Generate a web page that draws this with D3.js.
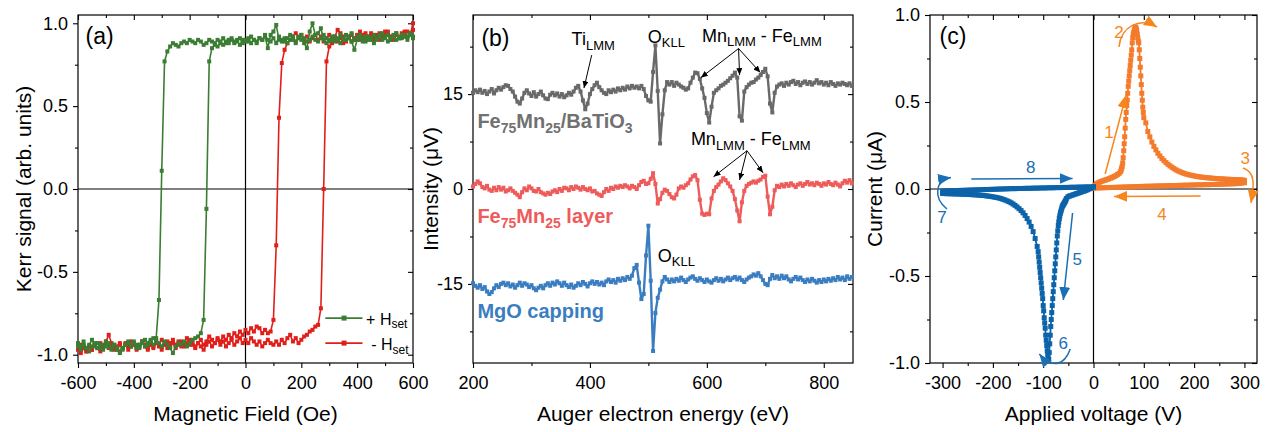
<!DOCTYPE html>
<html>
<head>
<meta charset="utf-8">
<script src="https://cdn.jsdelivr.net/npm/d3@7"></script>
<style>
  body { margin: 0; background: #fff; }
  svg { display: block; }
</style>
</head>
<body>
<svg id="fig" width="1273" height="432"></svg>
<script>
// ---------- (a) MOKE hysteresis loops ----------
const fieldOe = [
  -600,-590,-580,-570,-560,-550,-540,-530,-520,-510,
  -500,-490,-480,-470,-460,-450,-440,-430,-420,-410,
  -400,-390,-380,-370,-360,-350,-340,-330,-320,-310,
  -300,-290,-280,-270,-260,-250,-240,-230,-220,-210,
  -200,-190,-180,-170,-160,-150,-140,-130,-120,-110,
  -100,-90,-80,-70,-60,-50,-40,-30,-20,-10,
  0,10,20,30,40,50,60,70,80,90,
  100,110,120,130,140,150,160,170,180,190,
  200,210,220,230,240,250,260,270,280,290,
  300,310,320,330,340,350,360,370,380,390,
  400,410,420,430,440,450,460,470,480,490,
  500,510,520,530,540,550,560,570,580,590,
  600
];
// +Hset, increasing-field sweep
const kerrPlusUp = [
  -0.93,-0.95,-0.92,-0.96,-0.94,-0.91,-0.95,-0.93,-0.96,-0.94,
  -0.92,-0.95,-0.97,-0.94,-0.96,-0.98,-0.97,-0.94,-0.92,-0.95,
  -0.93,-0.96,-0.94,-0.92,-0.95,-0.93,-0.91,-0.94,-0.92,-0.93,
  -0.95,-0.92,-0.94,-0.96,-0.99,-0.95,-0.93,-0.94,-0.92,-0.95,
  -0.93,-0.91,-0.90,-0.89,-0.87,-0.79,-0.12,0.77,0.85,0.87,
  0.86,0.88,0.87,0.89,0.88,0.90,0.88,0.89,0.87,0.90,
  0.89,0.91,0.88,0.90,0.89,0.91,0.90,0.92,0.85,0.93,
  0.95,0.99,0.90,0.89,0.91,0.88,0.90,0.92,0.89,0.91,
  0.93,0.88,0.85,0.95,1.00,0.93,0.94,0.97,0.90,0.88,
  0.90,0.92,0.89,0.91,0.88,0.90,0.93,0.91,0.89,0.84,
  0.90,0.93,0.91,0.89,0.92,0.90,0.88,0.91,0.93,0.90,
  0.92,0.89,0.91,0.93,0.90,0.92,0.91,0.93,0.92,0.94,
  0.92
];
// +Hset, decreasing-field sweep (listed in field order)
const kerrPlusDown = [
  -0.95,-0.97,-0.94,-0.96,-0.98,-0.95,-0.93,-0.96,-0.94,-0.97,
  -0.95,-0.93,-0.96,-0.94,-0.97,-0.99,-0.96,-0.94,-0.93,-0.95,
  -0.92,-0.94,-0.96,-0.93,-0.91,-0.94,-0.92,-0.90,-0.90,-0.67,
  0.11,0.77,0.83,0.86,0.88,0.87,0.86,0.88,0.89,0.88,
  0.90,0.89,0.88,0.90,0.89,0.87,0.88,0.90,0.89,0.88,
  0.90,0.89,0.91,0.88,0.90,0.91,0.89,0.90,0.91,0.88,
  0.90,0.89,0.92,0.90,0.88,0.91,0.90,0.93,0.90,0.89,
  0.91,0.88,0.92,0.90,0.89,0.91,0.93,0.90,0.88,0.92,
  0.90,0.91,0.89,0.90,0.92,0.90,0.89,0.91,0.93,0.91,
  0.89,0.90,0.92,0.90,0.93,0.91,0.90,0.92,0.94,0.90,
  0.92,0.91,0.89,0.92,0.90,0.91,0.93,0.90,0.92,0.94,
  0.91,0.93,0.90,0.92,0.94,0.91,0.93,0.92,0.90,0.93,
  0.91
];
// -Hset, increasing-field sweep
const kerrMinusUp = [
  -0.97,-0.99,-0.96,-0.98,-0.95,-0.97,-0.94,-0.96,-0.98,-0.95,
  -0.93,-0.96,-0.94,-0.97,-0.95,-0.93,-0.96,-0.94,-0.97,-0.95,
  -0.93,-0.96,-0.94,-0.92,-0.95,-0.97,-0.94,-0.96,-0.93,-0.95,
  -0.97,-0.94,-0.92,-0.95,-0.93,-0.96,-0.94,-0.92,-0.95,-0.93,
  -0.91,-0.94,-0.96,-0.93,-0.95,-0.97,-0.94,-0.92,-0.95,-0.93,
  -0.91,-0.94,-0.92,-0.95,-0.93,-0.91,-0.94,-0.92,-0.90,-0.93,
  -0.91,-0.93,-0.90,-0.92,-0.94,-0.92,-0.95,-0.93,-0.91,-0.93,
  -0.94,-0.92,-0.94,-0.91,-0.93,-0.90,-0.88,-0.92,-0.90,-0.93,
  -0.91,-0.89,-0.88,-0.86,-0.85,-0.83,-0.82,-0.72,0.00,0.77,
  0.86,0.88,0.90,0.89,0.91,0.88,0.90,0.92,0.89,0.91,
  0.93,0.90,0.92,0.94,0.91,0.93,0.90,0.92,0.94,0.91,
  0.93,0.95,0.92,0.90,0.93,0.91,0.94,0.92,0.95,0.93,
  1.00
];
// -Hset, decreasing-field sweep (listed in field order)
const kerrMinusDown = [
  -0.96,-0.94,-0.96,-0.98,-0.95,-0.97,-0.94,-0.96,-0.93,-0.95,
  -0.92,-0.88,-0.93,-0.95,-0.97,-0.94,-0.96,-0.93,-0.95,-0.92,
  -0.94,-0.97,-0.95,-0.92,-0.94,-0.96,-0.93,-0.95,-0.92,-0.94,
  -0.91,-0.93,-0.96,-0.93,-0.91,-0.94,-0.92,-0.95,-0.93,-0.90,
  -0.94,-0.92,-0.95,-0.93,-0.91,-0.94,-0.92,-0.89,-0.91,-0.93,
  -0.90,-0.92,-0.89,-0.91,-0.88,-0.90,-0.87,-0.89,-0.86,-0.88,
  -0.85,-0.87,-0.84,-0.86,-0.83,-0.84,-0.87,-0.85,-0.87,-0.86,
  -0.79,-0.34,0.43,0.76,0.84,0.88,0.90,0.92,0.94,0.91,
  0.93,0.90,0.92,0.89,0.91,0.93,0.90,0.92,0.89,0.91,
  0.93,0.90,0.92,0.96,0.94,0.92,0.89,0.91,0.93,0.90,
  0.92,0.95,0.93,0.90,0.92,0.94,0.91,0.93,0.90,0.92,
  0.95,0.93,0.90,0.92,0.94,0.91,0.93,0.95,0.92,0.94,
  0.96
];
const kerrFieldTicks = [-600,-400,-200,0,200,400,600];
const kerrFieldMinor = [-500,-300,-100,100,300,500];
const kerrSignalTicks = [-1,-0.5,0,0.5,1];
const kerrSignalMinor = [-0.75,-0.25,0.25,0.75];

// ---------- (b) Auger spectra ----------
const energyEv = [
  200,204,208,212,216,220,224,228,232,236,
  240,244,248,252,256,260,264,268,272,276,
  280,284,288,292,296,300,304,308,312,316,
  320,324,328,332,336,340,344,348,352,356,
  360,364,368,372,376,380,384,388,392,396,
  400,404,408,412,416,420,424,428,432,436,
  440,444,448,452,456,460,464,468,472,476,
  480,484,488,492,496,500,504,508,512,516,
  520,524,528,532,536,540,544,548,552,556,
  560,564,568,572,576,580,584,588,592,596,
  600,604,608,612,616,620,624,628,632,636,
  640,644,648,652,656,660,664,668,672,676,
  680,684,688,692,696,700,704,708,712,716,
  720,724,728,732,736,740,744,748,752,756,
  760,764,768,772,776,780,784,788,792,796,
  800,804,808,812,816,820,824,828,832,836,
  840,844,848
];
const augerFeMnBTO = [
  15.2,15.6,15.3,15.7,15.2,15.5,15.0,15.4,15.8,15.1,
  15.6,16.0,15.7,16.1,16.4,16.3,15.8,15.4,14.6,13.8,
  13.5,14.3,15.2,15.6,15.1,14.7,15.3,14.6,15.0,15.4,
  14.8,14.3,14.2,14.9,15.2,14.8,15.1,14.6,15.0,14.5,
  14.8,15.2,14.9,15.4,16.0,16.3,15.4,14.0,12.6,13.5,
  15.0,15.8,16.4,16.8,16.1,15.6,15.2,15.0,15.6,15.3,
  15.7,15.4,15.9,15.6,16.0,15.7,16.2,15.9,16.3,16.0,
  16.2,15.9,16.3,15.8,14.7,14.0,13.8,18.5,22.7,15.5,
  7.2,11.8,15.6,16.9,16.5,16.9,16.3,16.8,16.5,16.2,
  16.0,15.7,15.9,16.8,17.6,18.4,18.3,17.4,15.9,14.4,
  12.0,10.5,13.0,15.2,15.6,15.9,16.3,16.5,16.8,17.1,
  17.5,17.9,18.4,17.6,11.5,10.8,15.4,16.1,16.5,16.8,
  16.9,17.3,17.6,18.0,18.5,19.0,17.8,13.5,12.1,15.2,
  16.2,16.5,16.7,16.3,16.8,16.5,16.9,17.1,16.6,16.9,
  16.4,16.8,17.0,16.6,16.9,16.5,16.8,17.2,16.7,16.9,
  16.5,16.8,16.4,16.9,16.6,16.3,16.7,16.5,16.8,16.6,
  16.4,16.7,16.3
];
const augerFeMn = [
  0.4,0.8,1.2,0.9,0.3,0.1,0.5,-0.1,-0.3,0.2,
  -0.2,0.3,-0.1,0.2,-0.4,-0.2,0.1,-0.3,-0.6,-0.9,
  -1.3,-0.5,0.1,-0.2,0.4,0.1,-0.3,-0.4,0.0,-0.5,
  -0.7,-0.9,-0.6,-0.8,-0.4,-0.2,-0.5,0.0,-0.3,0.2,
  0.1,-0.2,0.3,0.0,0.4,0.2,-0.1,0.3,0.0,-0.2,
  0.1,-0.4,-0.3,-0.7,-0.9,-1.1,-0.5,0.0,-0.3,0.2,
  0.0,0.4,0.2,0.5,0.3,0.6,0.4,0.1,0.5,0.3,
  0.0,0.6,1.1,1.3,0.8,0.9,1.6,2.5,0.8,-2.3,
  -1.6,-0.6,-0.1,-0.3,-0.8,-1.3,-1.5,-0.9,0.1,0.4,
  0.2,0.6,0.9,1.5,2.0,2.2,1.4,-1.7,-3.9,-4.1,
  -3.9,-4.0,-1.5,-0.3,0.3,0.7,1.2,1.7,1.4,0.9,
  0.4,-0.3,-1.6,-3.4,-5.1,-2.1,-0.3,0.5,0.8,1.0,
  1.2,1.0,1.3,1.5,1.9,2.1,-1.2,-4.0,-2.8,-0.2,
  0.5,0.3,0.7,0.4,0.8,0.5,0.9,0.6,0.3,0.7,
  0.9,0.5,0.8,1.1,0.7,0.9,0.6,1.0,0.8,0.5,
  0.9,0.7,1.1,0.8,0.6,1.0,0.7,0.4,0.9,1.3,
  1.0,1.4,0.9
];
const augerMgO = [
  -14.9,-15.3,-15.6,-15.2,-15.8,-15.5,-16.2,-16.6,-16.3,-15.7,
  -15.2,-15.5,-15.0,-14.8,-15.2,-14.9,-15.4,-15.1,-15.6,-15.2,
  -14.8,-15.3,-14.9,-15.1,-15.5,-15.2,-15.7,-16.0,-15.6,-15.3,
  -15.7,-15.2,-14.9,-15.3,-14.8,-15.1,-14.6,-14.9,-15.3,-14.8,
  -15.2,-15.5,-15.1,-15.6,-15.3,-14.9,-15.2,-14.7,-15.0,-15.4,
  -14.9,-14.6,-15.0,-14.7,-15.1,-14.8,-15.2,-14.6,-14.3,-14.7,
  -14.4,-14.8,-14.2,-14.5,-14.1,-14.4,-13.9,-14.2,-13.7,-12.5,
  -12.0,-14.8,-17.4,-16.6,-10.5,-5.8,-14.5,-25.6,-19.6,-17.2,
  -15.9,-14.6,-13.9,-14.3,-14.7,-14.3,-14.6,-14.2,-14.5,-14.0,
  -14.4,-14.7,-14.3,-14.0,-13.8,-14.2,-14.5,-14.1,-14.4,-14.7,
  -14.3,-14.6,-14.8,-14.4,-14.1,-14.5,-14.2,-14.6,-14.3,-14.0,
  -14.4,-14.1,-13.9,-14.3,-14.0,-14.4,-14.7,-14.3,-14.0,-13.8,
  -13.5,-13.7,-13.3,-13.8,-14.4,-15.0,-15.2,-14.2,-13.6,-14.1,
  -13.8,-14.2,-13.7,-14.1,-13.8,-14.3,-14.6,-14.2,-13.9,-14.3,
  -14.0,-14.4,-14.7,-14.3,-14.6,-14.2,-14.5,-14.8,-14.4,-14.7,
  -14.3,-14.6,-14.2,-14.5,-14.1,-14.4,-13.9,-14.3,-14.0,-14.4,
  -13.8,-14.2,-13.9
];
const energyTicks = [200,400,600,800];
const energyMinor = [300,500,700];
const intensityTicks = [-15,0,15];
const intensityMinor = [-22.5,-7.5,7.5,22.5];

// ---------- (c) current-voltage sweeps ----------
const posUpV = [
  0,3,6,9,12,15,18,21,24,27,30,33,36,39,42,45,48,51,54,
  55,56,57,58,59,60,61,62,63,64,65,66,67,68,69,70,71,72,73,74,
  75,76,77,78,79,80,81,82,83,84,85,86,87,88,89,90,91,92,93,94,
  95,96,97,98,99,100,
  104,108,112,116,120,124,128,132,136,140,144,148,152,156,160,164,168,172,176,180,
  184,188,192,196,200,204,208,212,216,220,224,228,232,236,240,244,248,252,256,260,
  264,268,272,276,280,284,288,292,296,300
];
const posUpI = [
  0.012,0.022,0.030,0.035,0.039,0.043,0.046,0.049,0.052,0.055,0.058,0.062,0.065,0.069,0.073,0.078,0.084,0.090,0.100,
  0.11,0.12,0.13,0.15,0.18,0.22,0.26,0.30,0.35,0.40,0.44,0.48,0.51,0.55,0.59,0.62,0.65,0.68,0.71,0.74,
  0.77,0.80,0.84,0.87,0.89,0.90,0.91,0.92,0.93,0.93,0.92,0.91,0.89,0.87,0.85,0.84,0.80,0.75,0.70,0.65,
  0.60,0.55,0.51,0.47,0.44,0.41,
  0.38,0.33,0.30,0.27,0.245,0.225,0.205,0.19,0.175,0.163,0.152,0.142,0.133,0.125,0.117,0.110,0.104,0.099,0.094,0.090,
  0.086,0.083,0.080,0.078,0.075,0.073,0.071,0.069,0.068,0.066,0.065,0.064,0.063,0.062,0.061,0.060,0.059,0.058,0.058,0.057,
  0.056,0.056,0.055,0.055,0.054,0.054,0.053,0.053,0.052,0.050
];
const posDownV = [
  300,295,290,285,280,275,270,265,260,255,250,245,240,235,230,225,220,215,210,205,
  200,195,190,185,180,175,170,165,160,155,150,145,140,135,130,125,120,115,110,105,
  100,95,90,85,80,75,70,65,60,55,50,45,40,35,30,25,20,15,10,5,0
];
const posDownI = [
  0.036,0.034,0.032,0.031,0.030,0.030,0.029,0.029,0.028,0.028,
  0.027,0.027,0.026,0.026,0.025,0.025,0.025,0.024,0.024,0.024,
  0.023,0.023,0.022,0.022,0.022,0.021,0.021,0.020,0.020,0.020,
  0.019,0.019,0.018,0.018,0.018,0.017,0.017,0.016,0.016,0.016,
  0.015,0.015,0.014,0.014,0.013,0.013,0.012,0.012,0.011,0.011,
  0.010,0.010,0.009,0.009,0.008,0.008,0.007,0.007,0.006,0.006,
  0.005
];
const negDownV = [
  0,-3,-6,-9,-12,-15,-18,-21,-24,-27,-30,-33,-36,-39,-42,-45,-48,-51,-54,
  -55,-56,-57,-58,-59,-60,-61,-62,-63,-64,-65,-66,-67,-68,-69,-70,-71,-72,-73,-74,
  -75,-76,-77,-78,-79,-80,-81,-82,-83,-84,-85,-86,-87,-88,-89,-90,-91,-92,-93,-94,
  -95,-96,-97,-98,-99,-100,-101,-102,-103,-104,-105,-106,-107,-108,-109,-110,
  -112,-116,-120,-124,-128,-132,-136,-140,-144,-148,-152,-156,-160,-164,-168,-172,-176,-180,-184,-188,
  -192,-196,-200,-204,-208,-212,-216,-220,-224,-228,-232,-236,-240,-244,-248,-252,-256,-260,-264,-268,
  -272,-276,-280,-284,-288,-292,-296,-300
];
const negDownI = [
  0.012,0.008,0.004,0.0,-0.004,-0.008,-0.011,-0.014,-0.017,-0.020,-0.023,-0.026,-0.029,-0.032,-0.035,-0.038,-0.041,-0.045,-0.055,
  -0.065,-0.07,-0.075,-0.08,-0.085,-0.09,-0.095,-0.10,-0.11,-0.12,-0.13,-0.14,-0.155,-0.17,-0.19,-0.21,-0.24,-0.27,-0.31,-0.35,
  -0.39,-0.43,-0.47,-0.51,-0.55,-0.59,-0.63,-0.67,-0.71,-0.75,-0.79,-0.84,-0.89,-0.94,-0.98,-0.97,-0.95,-0.93,-0.90,-0.87,
  -0.84,-0.80,-0.77,-0.74,-0.70,-0.67,-0.63,-0.60,-0.57,-0.54,-0.51,-0.48,-0.45,-0.42,-0.39,-0.36,
  -0.33,-0.285,-0.245,-0.215,-0.19,-0.17,-0.152,-0.137,-0.124,-0.113,-0.103,-0.094,-0.086,-0.079,-0.073,-0.068,-0.063,-0.059,-0.055,-0.052,
  -0.049,-0.047,-0.045,-0.043,-0.041,-0.040,-0.038,-0.037,-0.036,-0.035,-0.034,-0.033,-0.033,-0.032,-0.031,-0.031,-0.030,-0.030,-0.029,-0.029,
  -0.028,-0.028,-0.028,-0.027,-0.027,-0.027,-0.026,-0.026
];
const negUpV = [
  -300,-295,-290,-285,-280,-275,-270,-265,-260,-255,-250,-245,-240,-235,-230,-225,-220,-215,-210,-205,
  -200,-195,-190,-185,-180,-175,-170,-165,-160,-155,-150,-145,-140,-135,-130,-125,-120,-115,-110,-105,
  -100,-95,-90,-85,-80,-75,-70,-65,-60,-55,-50,-45,-40,-35,-30,-25,-20,-15,-10,-5,0
];
const negUpI = [
  -0.012,-0.011,-0.011,-0.010,-0.010,-0.009,-0.009,-0.008,-0.008,-0.007,
  -0.007,-0.006,-0.006,-0.005,-0.005,-0.004,-0.004,-0.003,-0.003,-0.002,
  -0.002,-0.001,-0.001,0.000,0.000,0.001,0.001,0.002,0.002,0.002,
  0.003,0.003,0.003,0.004,0.004,0.004,0.005,0.005,0.005,0.006,
  0.006,0.006,0.007,0.007,0.007,0.008,0.008,0.008,0.009,0.009,
  0.009,0.010,0.010,0.010,0.011,0.011,0.011,0.012,0.012,0.012,
  0.013
];
const voltageTicks = [-300,-200,-100,0,100,200,300];
const voltageMinor = [-250,-150,-50,50,150,250];
const currentTicks = [-1,-0.5,0,0.5,1];
const currentMinor = [-0.75,-0.25,0.25,0.75];

// ---------- drawing ----------
const FONT = "'Liberation Sans', Arial, Helvetica, sans-serif";
const svg = d3.select("#fig");
const defs = svg.append("defs");

function arrowMarker(id, color, len, wid) {
  defs.append("marker")
    .attr("id", id)
    .attr("viewBox", `0 0 ${len} ${wid}`)
    .attr("refX", len).attr("refY", wid / 2)
    .attr("markerWidth", len).attr("markerHeight", wid)
    .attr("markerUnits", "userSpaceOnUse")
    .attr("orient", "auto")
    .append("path")
    .attr("d", `M0,0L${len},${wid / 2}L0,${wid}Z`)
    .attr("fill", color);
}
arrowMarker("headBlack", "#000", 7, 6);
arrowMarker("headOrange", "#f7861c", 13, 11);
arrowMarker("headBlue", "#1a6fb5", 13, 11);

function makePanel(o) {
  const g = svg.append("g");
  const x = d3.scaleLinear().domain(o.xDomain).range([o.left, o.right]);
  const y = d3.scaleLinear().domain(o.yDomain).range([o.bottom, o.top]);
  const style = sel => {
    sel.select(".domain").remove();
    sel.selectAll("line").attr("stroke", "#000").attr("stroke-width", 1.1);
    sel.selectAll("text").attr("font-family", FONT).attr("font-size", 18).attr("fill", "#000");
  };
  const none = () => "";
  const axes = g.append("g");
  axes.append("g").attr("transform", `translate(0,${o.bottom})`)
    .call(d3.axisBottom(x).tickValues(o.xTicks).tickSize(5).tickPadding(8.5).tickFormat(o.xFmt)).call(style);
  axes.append("g").attr("transform", `translate(0,${o.bottom})`)
    .call(d3.axisBottom(x).tickValues(o.xMinor).tickSize(3).tickFormat(none)).call(style);
  axes.append("g").attr("transform", `translate(0,${o.top})`)
    .call(d3.axisTop(x).tickValues(o.xTicks).tickSize(-5).tickFormat(none)).call(style);
  axes.append("g").attr("transform", `translate(0,${o.top})`)
    .call(d3.axisTop(x).tickValues(o.xMinor).tickSize(-3).tickFormat(none)).call(style);
  axes.append("g").attr("transform", `translate(${o.left},0)`)
    .call(d3.axisLeft(y).tickValues(o.yTicks).tickSize(5).tickPadding(5).tickFormat(o.yFmt)).call(style);
  axes.append("g").attr("transform", `translate(${o.left},0)`)
    .call(d3.axisLeft(y).tickValues(o.yMinor).tickSize(3).tickFormat(none)).call(style);
  axes.append("g").attr("transform", `translate(${o.right},0)`)
    .call(d3.axisRight(y).tickValues(o.yTicks).tickSize(-5).tickFormat(none)).call(style);
  axes.append("g").attr("transform", `translate(${o.right},0)`)
    .call(d3.axisRight(y).tickValues(o.yMinor).tickSize(-3).tickFormat(none)).call(style);
  g.append("rect")
    .attr("x", o.left).attr("y", o.top)
    .attr("width", o.right - o.left).attr("height", o.bottom - o.top)
    .attr("fill", "none").attr("stroke", "#000").attr("stroke-width", 1.2);
  // axis titles
  g.append("text")
    .attr("x", (o.left + o.right) / 2).attr("y", 421)
    .attr("text-anchor", "middle")
    .attr("font-family", FONT).attr("font-size", 21).attr("fill", "#000")
    .text(o.xTitle);
  g.append("text")
    .attr("transform", `translate(${o.yTitleX},${(o.top + o.bottom) / 2}) rotate(-90)`)
    .attr("text-anchor", "middle")
    .attr("font-family", FONT).attr("font-size", 21).attr("fill", "#000")
    .text(o.yTitle);
  return { g, x, y, plot: g.append("g") };
}

function zeroLines(p) {
  const [x0, x1] = p.x.range(), [y0, y1] = p.y.range();
  p.plot.append("line").attr("x1", p.x(0)).attr("x2", p.x(0)).attr("y1", y0).attr("y2", y1)
    .attr("stroke", "#000").attr("stroke-width", 1.2);
  p.plot.append("line").attr("x1", x0).attr("x2", x1).attr("y1", p.y(0)).attr("y2", p.y(0))
    .attr("stroke", "#000").attr("stroke-width", 1.2);
}

function series(p, xs, ys, color, lw, ms) {
  const pts = d3.zip(xs, ys);
  const line = d3.line().x(d => p.x(d[0])).y(d => p.y(d[1]));
  const s = p.plot.append("g");
  s.append("path").datum(pts).attr("d", line)
    .attr("fill", "none").attr("stroke", color).attr("stroke-width", lw).attr("stroke-linejoin", "round");
  s.selectAll("rect").data(pts).join("rect")
    .attr("x", d => p.x(d[0]) - ms / 2).attr("y", d => p.y(d[1]) - ms / 2)
    .attr("width", ms).attr("height", ms).attr("fill", color);
}

function richText(g, px, py, parts, o) {
  const t = g.append("text").attr("x", px).attr("y", py)
    .attr("font-family", FONT).attr("font-size", o.size)
    .attr("font-weight", o.weight || "normal").attr("fill", o.color || "#000")
    .attr("text-anchor", o.anchor || "start");
  let low = false;
  parts.forEach(([s, sub]) => {
    const ts = t.append("tspan").text(s);
    if (sub) {
      ts.attr("font-size", o.subSize);
      if (!low) { ts.attr("dy", o.shift); low = true; }
    } else if (low) { ts.attr("dy", -o.shift); low = false; }
  });
  return t;
}

function plainText(g, px, py, s, size, color) {
  return g.append("text").attr("x", px).attr("y", py)
    .attr("font-family", FONT).attr("font-size", size).attr("fill", color).text(s);
}

// ---- panel (a) ----
const pa = makePanel({
  left: 78, right: 413, top: 15, bottom: 363,
  xDomain: [-600, 600], yDomain: [-1.05, 1.05],
  xTicks: kerrFieldTicks, xMinor: kerrFieldMinor,
  yTicks: kerrSignalTicks, yMinor: kerrSignalMinor,
  xFmt: d => String(d), yFmt: d => d.toFixed(1),
  xTitle: "Magnetic Field (Oe)", yTitle: "Kerr signal (arb. units)", yTitleX: 31
});
zeroLines(pa);
const GREEN = "#3b7d33", RED = "#e11f1a";
series(pa, fieldOe, kerrMinusUp, RED, 1.6, 4);
series(pa, fieldOe, kerrMinusDown, RED, 1.6, 4);
series(pa, fieldOe, kerrPlusUp, GREEN, 1.6, 4);
series(pa, fieldOe, kerrPlusDown, GREEN, 1.6, 4);
plainText(pa.g, pa.x(-573), pa.y(0.875), "(a)", 23, "#000");
// legend
[[GREEN, -0.779, "+ H", 432, -0.819], [RED, -0.93, "- H", 450, -0.974]].forEach(([c, ly, lab, tx, ty]) => {
  pa.g.append("line").attr("x1", pa.x(286)).attr("x2", pa.x(419))
    .attr("y1", pa.y(ly)).attr("y2", pa.y(ly)).attr("stroke", c).attr("stroke-width", 1.6);
  pa.g.append("rect").attr("x", pa.x(353) - 2.5).attr("y", pa.y(ly) - 2.5)
    .attr("width", 5).attr("height", 5).attr("fill", c);
  richText(pa.g, pa.x(tx), pa.y(ty), [[lab, false], ["set", true]],
    { size: 16, subSize: 12, shift: 3.5, color: "#000" });
});

// ---- panel (b) ----
const pb = makePanel({
  left: 473, right: 853, top: 15, bottom: 363,
  xDomain: [200, 850], yDomain: [-27.5, 27.5],
  xTicks: energyTicks, xMinor: energyMinor,
  yTicks: intensityTicks, yMinor: intensityMinor,
  xFmt: d => String(d), yFmt: d => String(d),
  xTitle: "Auger electron energy (eV)", yTitle: "Intensity (\u03bcV)", yTitleX: 438
});
const GREY = "#696969", SALMON = "#ee5b5b", SKY = "#3a7dc0";
series(pb, energyEv, augerFeMnBTO, GREY, 2.4, 4);
series(pb, energyEv, augerFeMn, SALMON, 2.4, 4);
series(pb, energyEv, augerMgO, SKY, 2.4, 4);
plainText(pb.g, pb.x(214.4), pb.y(22.67), "(b)", 23, "#000");
const labOpts = { size: 20, subSize: 14, shift: 5, weight: "bold" };
richText(pb.g, pb.x(207.5), pb.y(9.63),
  [["Fe", false], ["75", true], ["Mn", false], ["25", true], ["/BaTiO", false], ["3", true]],
  Object.assign({ color: "#717171" }, labOpts));
richText(pb.g, pb.x(207.5), pb.y(-5.37),
  [["Fe", false], ["75", true], ["Mn", false], ["25", true], [" layer", false]],
  Object.assign({ color: SALMON }, labOpts));
richText(pb.g, pb.x(207.5), pb.y(-20.37), [["MgO capping", false]],
  Object.assign({ color: SKY }, labOpts));
const annOpts = { size: 18, subSize: 13, shift: 4.5, color: "#000" };
richText(pb.g, pb.x(368.7), pb.y(22.74), [["Ti", false], ["LMM", true]], annOpts);
richText(pb.g, pb.x(499), pb.y(23.1), [["O", false], ["KLL", true]], annOpts);
richText(pb.g, pb.x(591.6), pb.y(23.26), [["Mn", false], ["LMM", true], [" - Fe", false], ["LMM", true]], annOpts);
richText(pb.g, pb.x(572.7), pb.y(6.95), [["Mn", false], ["LMM", true], [" - Fe", false], ["LMM", true]], annOpts);
richText(pb.g, pb.x(516.1), pb.y(-11.48), [["O", false], ["KLL", true]], annOpts);
function arrowB(e0, i0, e1, i1) {
  pb.g.append("line").attr("x1", pb.x(e0)).attr("y1", pb.y(i0)).attr("x2", pb.x(e1)).attr("y2", pb.y(i1))
    .attr("stroke", "#000").attr("stroke-width", 1).attr("marker-end", "url(#headBlack)");
}
arrowB(403, 21.16, 389.8, 15.95);
[[589.8, 17.6], [656, 18], [691.5, 18.4]].forEach(([e, i]) => arrowB(654.3, 22.2, e, i));
[[611.5, 1.94], [656, 1.42], [696.1, 2.57]].forEach(([e, i]) => arrowB(668.7, 6.05, e, i));

// ---- panel (c) ----
const pc = makePanel({
  left: 930, right: 1257, top: 15, bottom: 363,
  xDomain: [-325, 325], yDomain: [-1, 1],
  xTicks: voltageTicks, xMinor: voltageMinor,
  yTicks: currentTicks, yMinor: currentMinor,
  xFmt: d => String(d), yFmt: d => d.toFixed(1),
  xTitle: "Applied voltage (V)", yTitle: "Current (\u03bcA)", yTitleX: 882
});
zeroLines(pc);
const ORANGE = "#f47b2b", BLUE = "#0c63a9";
series(pc, posUpV, posUpI, ORANGE, 1.8, 5);
series(pc, posDownV, posDownI, ORANGE, 1.8, 5);
series(pc, negDownV, negDownI, BLUE, 1.8, 5);
series(pc, negUpV, negUpI, BLUE, 1.8, 5);
plainText(pc.g, pc.x(-305.9), pc.y(0.835), "(c)", 23, "#000");
const ORA = "#f7861c", BLU = "#1a6fb5";
function pathC(pts, color, marker) {
  const line = d3.line().x(d => pc.x(d[0])).y(d => pc.y(d[1]));
  pc.g.append("path").attr("d", line(pts)).attr("fill", "none")
    .attr("stroke", color).attr("stroke-width", 1.5).attr("marker-end", `url(#${marker})`);
}
function bezierC(p0, c1, c2, p1, color, marker) {
  const P = p => `${pc.x(p[0])},${pc.y(p[1])}`;
  pc.g.append("path").attr("d", `M${P(p0)}C${P(c1)} ${P(c2)} ${P(p1)}`).attr("fill", "none")
    .attr("stroke", color).attr("stroke-width", 1.5).attr("marker-end", `url(#${marker})`);
}
pathC([[23.2, 0.086], [64.8, 0.54]], ORA, "headOrange");
bezierC([50.7, 0.816], [54.7, 0.937], [92.4, 0.989], [126.2, 0.931], ORA, "headOrange");
bezierC([297.2, 0.121], [323, 0.098], [319, 0.017], [313, -0.080], ORA, "headOrange");
pathC([[212.9, -0.040], [41, -0.043]], ORA, "headOrange");
pathC([[-41.6, -0.138], [-60, -0.638]], BLU, "headBlue");
bezierC([-46.2, -0.92], [-58, -1.02], [-85, -1.03], [-107.7, -0.948], BLU, "headBlue");
bezierC([-291.2, -0.115], [-319, -0.052], [-315, 0.052], [-283.3, 0.066], BLU, "headBlue");
pathC([[-243, 0.057], [-41.6, 0.061]], BLU, "headBlue");
[["1", 21.2, 0.295, ORA], ["2", 41, 0.87, ORA], ["3", 292.2, 0.142, ORA], ["4", 126.9, -0.178, ORA],
 ["5", -41.6, -0.437, BLU], ["6", -69.4, -0.921, BLU], ["7", -310.5, -0.194, BLU], ["8", -134, 0.09, BLU]]
  .forEach(([s, v, i, c]) => plainText(pc.g, pc.x(v), pc.y(i), s, 17, c));
</script>
</body>
</html>
